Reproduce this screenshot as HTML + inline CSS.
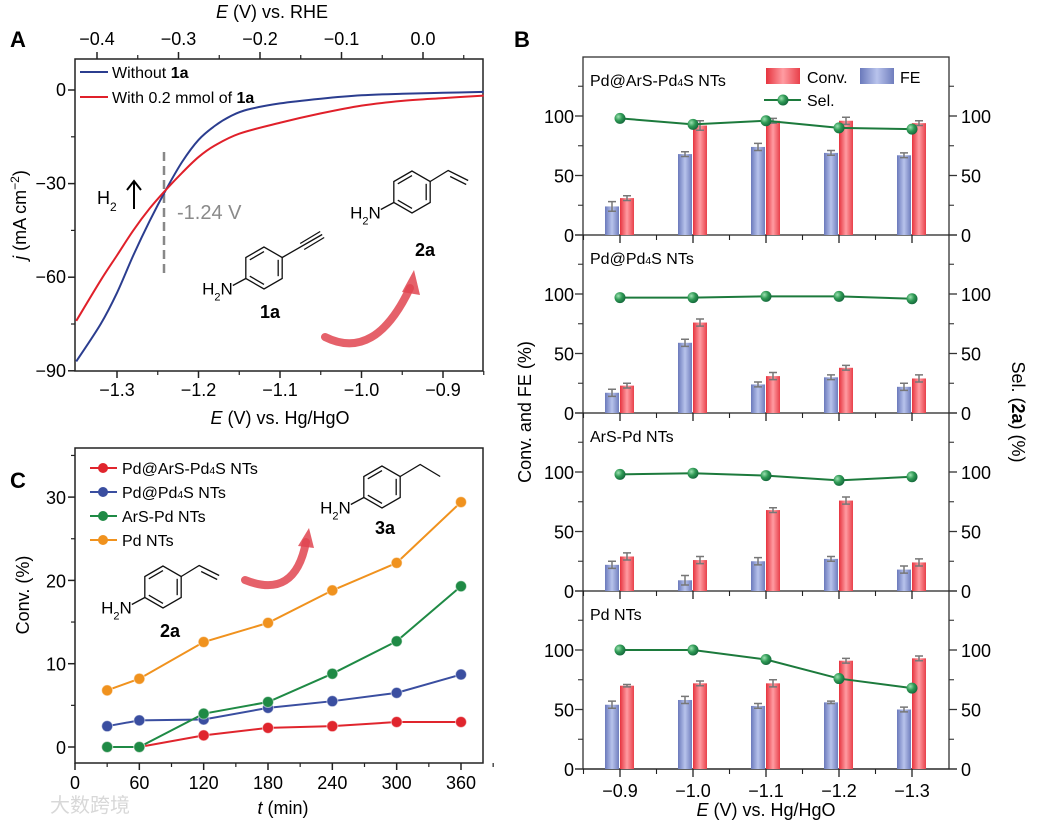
<!DOCTYPE html>
<html><head><meta charset="utf-8"><style>
html,body{margin:0;padding:0;background:#fff;}
svg{display:block;font-family:"Liberation Sans","Noto Sans CJK SC",sans-serif;}
</style></head><body>
<svg id="fig" width="1039" height="826" viewBox="0 0 1039 826" xmlns="http://www.w3.org/2000/svg">
<defs>
<linearGradient id="gBlue" x1="0" x2="1" y1="0" y2="0"><stop offset="0" stop-color="#6a79bb"/><stop offset="0.5" stop-color="#b8c3ec"/><stop offset="1" stop-color="#6f7dbd"/></linearGradient>
<linearGradient id="gRed" x1="0" x2="1" y1="0" y2="0"><stop offset="0" stop-color="#e6333e"/><stop offset="0.5" stop-color="#ff9ca2"/><stop offset="1" stop-color="#e8404a"/></linearGradient>
<radialGradient id="gGreen" cx="0.35" cy="0.35" r="0.7"><stop offset="0" stop-color="#9be0b0"/><stop offset="0.5" stop-color="#2f9a55"/><stop offset="1" stop-color="#13663a"/></radialGradient>
</defs>
<text x="10" y="47" font-size="22" font-weight="bold">A</text>
<text x="514" y="47" font-size="22" font-weight="bold">B</text>
<text x="10" y="488" font-size="22" font-weight="bold">C</text>
<text x="272" y="18" font-size="18" text-anchor="middle"><tspan font-style="italic">E</tspan> (V) vs. RHE</text>
<text x="280" y="424" font-size="18" text-anchor="middle"><tspan font-style="italic">E</tspan> (V)  vs. Hg/HgO</text>
<text transform="translate(26,215) rotate(-90)" font-size="18" text-anchor="middle"><tspan font-style="italic">j</tspan> (mA cm<tspan baseline-shift="super" font-size="12">−2</tspan>)</text>
<line x1="80" y1="72" x2="108" y2="72" stroke="#2b3d8f" stroke-width="2"/>
<text x="112" y="78" font-size="16">Without <tspan font-weight="bold">1a</tspan></text>
<line x1="80" y1="97" x2="108" y2="97" stroke="#e0202a" stroke-width="2"/>
<text x="112" y="103" font-size="16">With 0.2 mmol of <tspan font-weight="bold">1a</tspan></text>
<line x1="164" y1="152" x2="164" y2="274" stroke="#888" stroke-width="2.5" stroke-dasharray="9,5"/>
<text x="177" y="219" font-size="20" fill="#8a8a8a">-1.24 V</text>
<text x="97" y="204" font-size="18">H<tspan font-size="12" baseline-shift="sub">2</tspan></text>
<g><line x1="134" y1="209" x2="134" y2="182" stroke="#000" stroke-width="2"/><polyline points="127,190 134,181 141,190" fill="none" stroke="#000" stroke-width="2"/></g>
<text x="283" y="814" font-size="18" text-anchor="middle"><tspan font-style="italic">t</tspan> (min)</text>
<text transform="translate(29,595) rotate(-90)" font-size="18" text-anchor="middle">Conv. (%)</text>
<text x="766" y="816" font-size="18" text-anchor="middle"><tspan font-style="italic">E</tspan> (V) vs. Hg/HgO</text>
<text transform="translate(531,412) rotate(-90)" font-size="18" text-anchor="middle">Conv. and FE (%)</text>
<text transform="translate(1012,412) rotate(90)" font-size="18" text-anchor="middle">Sel. (<tspan font-weight="bold">2a</tspan>) (%)</text>
<text x="50" y="812" font-size="20" fill="#d8d8d8">大数跨境</text>
</svg>
<script>
// ---------- Panel A data ----------
const aBlueV = [-1.35,-1.32,-1.30,-1.28,-1.26,-1.24,-1.22,-1.20,-1.18,-1.16,-1.14,-1.10,-1.05,-1.00,-0.95,-0.90,-0.85];
const aBlueJ = [-87,-75,-65,-53,-42,-32,-23,-16,-11.5,-8.3,-6.3,-4.3,-2.8,-1.7,-1.2,-0.9,-0.6];
const aRedV = [-1.35,-1.32,-1.30,-1.28,-1.26,-1.24,-1.22,-1.20,-1.18,-1.15,-1.10,-1.05,-1.00,-0.95,-0.90,-0.85];
const aRedJ = [-74,-61,-53,-45,-38,-32,-26.5,-21.5,-17.8,-14,-10.5,-7.5,-5,-3.5,-2.6,-1.8];
const aXTicks = [-1.3,-1.2,-1.1,-1.0,-0.9];
const aXTickLabels = ["−1.3","−1.2","−1.1","−1.0","−0.9"];
const aTopTicks = [-0.4,-0.3,-0.2,-0.1,0.0];
const aTopTickLabels = ["−0.4","−0.3","−0.2","−0.1","0.0"];
const aYTicks = [0,-30,-60,-90];
const aYTickLabels = ["0","−30","−60","−90"];
// ---------- Panel B data ----------
const bCategories = ["−0.9","−1.0","−1.1","−1.2","−1.3"];
const bTitles = ["Pd@ArS-Pd|4|S NTs","Pd@Pd|4|S NTs","ArS-Pd NTs","Pd NTs"];
const bFE1 = [24,68,74,69,67], bConv1 = [31,92,96,96,94], bSel1 = [98,93,96,90,89];
const bFEErr1 = [4,2,3,2,2], bConvErr1 = [2,4,2,3,2];
const bFE2 = [17,59,24,30,22], bConv2 = [23,76,31,38,29], bSel2 = [97,97,98,98,96];
const bFEErr2 = [3,3,2,2,3], bConvErr2 = [2,3,3,2,3];
const bFE3 = [22,9,25,27,18], bConv3 = [29,26,68,76,24], bSel3 = [98,99,97,93,96];
const bFEErr3 = [3,4,3,2,3], bConvErr3 = [3,3,2,3,3];
const bFE4 = [54,58,53,56,50], bConv4 = [70,72,72,91,93], bSel4 = [100,100,92,76,68];
const bFEErr4 = [3,3,2,1,2], bConvErr4 = [1,2,3,2,2];
const bYTicks = [0,50,100];
// ---------- Panel C data ----------
const cTimes = [30,60,120,180,240,300,360];
const cRed = [0,0,1.4,2.3,2.5,3.0,3.0];
const cBlue = [2.5,3.2,3.3,4.7,5.5,6.5,8.7];
const cGreen = [0,0,4.0,5.4,8.8,12.7,19.3];
const cOrange = [6.8,8.2,12.6,14.9,18.8,22.1,29.4];
const cSeriesNames = ["Pd@ArS-Pd|4|S NTs","Pd@Pd|4|S NTs","ArS-Pd NTs","Pd NTs"];
const cXTicks = [0,60,120,180,240,300,360];
const cYTicks = [0,10,20,30];

const NS = "http://www.w3.org/2000/svg";
const svg = document.getElementById('fig');
function mk(tag, attrs, parent){ const e=document.createElementNS(NS,tag); for(const k in attrs) e.setAttribute(k,attrs[k]); (parent||svg).appendChild(e); return e; }
function tx(x,y,s,attrs,parent){ const e=mk('text',Object.assign({x:x,y:y},attrs||{}),parent); e.textContent=s; return e; }
function richSub(x,y,s,size,parent,anchor){
  const parts=s.split('|'); const e=mk('text',{x:x,y:y,'font-size':size,'text-anchor':anchor||'start'},parent);
  parts.forEach((p,i)=>{const t=document.createElementNS(NS,'tspan'); if(i%2===1) t.setAttribute('font-size',size*0.65); t.textContent=p; e.appendChild(t);});
  return e;
}
function smoothPath(P){
  let d='M'+P[0][0]+','+P[0][1];
  for(let i=0;i<P.length-1;i++){
    const p0=P[Math.max(0,i-1)],p1=P[i],p2=P[i+1],p3=P[Math.min(P.length-1,i+2)];
    const c1=[p1[0]+(p2[0]-p0[0])/6,p1[1]+(p2[1]-p0[1])/6];
    const c2=[p2[0]-(p3[0]-p1[0])/6,p2[1]-(p3[1]-p1[1])/6];
    d+=` C${c1[0]},${c1[1]} ${c2[0]},${c2[1]} ${p2[0]},${p2[1]}`;
  }
  return d;
}

// ---------- Panel A ----------
const xA = v => 117 + (v + 1.3) * 815;
const xTop = v => 97 + (v + 0.4) * 815;
const yA = v => 90 - v * 3.12;
const gA = mk('g',{});


const frameA = mk('rect',{x:75,y:59,width:408,height:312,fill:'none',stroke:'#222','stroke-width':1.5},gA);


aXTicks.forEach((v,i)=>{
  const t=mk('line',{x1:xA(v),x2:xA(v),y1:371,y2:378,stroke:'#222','stroke-width':1.5},gA);
  
  
  const m=mk('line',{x1:xA(v+0.05),x2:xA(v+0.05),y1:371,y2:375,stroke:'#222','stroke-width':1.2},gA);
  
  
  const l=tx(xA(v),396,aXTickLabels[i],{'font-size':18,'text-anchor':'middle'},gA);
  
  
});
aTopTicks.forEach((v,i)=>{
  const t=mk('line',{x1:xTop(v),x2:xTop(v),y1:59,y2:52,stroke:'#222','stroke-width':1.5},gA);
  
  
  const m=mk('line',{x1:xTop(v+0.05),x2:xTop(v+0.05),y1:59,y2:55,stroke:'#222','stroke-width':1.2},gA);
  
  
  const l=tx(xTop(v),45,aTopTickLabels[i],{'font-size':18,'text-anchor':'middle'},gA);
  
  
});
aYTicks.forEach((v,i)=>{
  const t=mk('line',{x1:68,x2:75,y1:yA(v),y2:yA(v),stroke:'#222','stroke-width':1.5},gA);
  
  
  if(v>-90){const m=mk('line',{x1:71,x2:75,y1:yA(v-15),y2:yA(v-15),stroke:'#222','stroke-width':1.2},gA);
  
  }
  const l=tx(66,yA(v)+6,aYTickLabels[i],{'font-size':18,'text-anchor':'end'},gA);
  
  
});
const blueA = mk('path',{d:smoothPath(aBlueV.map((v,i)=>[xA(v),yA(aBlueJ[i])])),fill:'none',stroke:'#2b3d8f','stroke-width':2},gA);


const redA = mk('path',{d:smoothPath(aRedV.map((v,i)=>[xA(v),yA(aRedJ[i])])),fill:'none',stroke:'#e0202a','stroke-width':2},gA);



// ---------- molecules ----------
function hexagon(cx,cy,r,name){
  const g=mk('g',{stroke:'#111','stroke-width':1.3,fill:'none'});
  
  
  const pts=[];for(let k=0;k<6;k++){const a=(90+60*k)*Math.PI/180;pts.push([cx+r*Math.cos(a),cy-r*Math.sin(a)]);}
  mk('polygon',{points:pts.map(p=>p.join(',')).join(' ')},g);
  [[0,1],[2,3],[4,5]].forEach(([a,b])=>{const s=0.78;const p=pts[a],q=pts[b];
    mk('line',{x1:cx+(p[0]-cx)*s,y1:cy+(p[1]-cy)*s,x2:cx+(q[0]-cx)*s,y2:cy+(q[1]-cy)*s},g);});
  const ur=pts[5], ll=pts[2];
  return {g,ur,ll};
}
function nh2(ll,g){ mk('line',{x1:ll[0],y1:ll[1],x2:ll[0]-13,y2:ll[1]+7},g);
  const t=mk('text',{x:ll[0]-13,y:ll[1]+16,'font-size':17,'text-anchor':'end',stroke:'none',fill:'#000'},g);
  t.innerHTML='H<tspan font-size="11" baseline-shift="sub">2</tspan>N'; }
let m=hexagon(264,268,21,'molecule-1a'); nh2(m.ll,m.g);
mk('line',{x1:m.ur[0],y1:m.ur[1],x2:m.ur[0]+40,y2:m.ur[1]-23},m.g);
mk('line',{x1:m.ur[0]+18,y1:m.ur[1]-14,x2:m.ur[0]+38,y2:m.ur[1]-26},m.g);
mk('line',{x1:m.ur[0]+22,y1:m.ur[1]-8,x2:m.ur[0]+42,y2:m.ur[1]-20},m.g);
tx(270,318,'1a',{'font-size':18,'font-weight':'bold','text-anchor':'middle',stroke:'none',fill:'#000'},m.g);
m=hexagon(412,192,21,'molecule-2a-top'); nh2(m.ll,m.g);
mk('polyline',{points:`${m.ur[0]},${m.ur[1]} ${m.ur[0]+18},${m.ur[1]-11} ${m.ur[0]+38},${m.ur[1]-1}`},m.g);
mk('line',{x1:m.ur[0]+20,y1:m.ur[1]-5,x2:m.ur[0]+36,y2:m.ur[1]+3},m.g);
tx(425,256,'2a',{'font-size':18,'font-weight':'bold','text-anchor':'middle',stroke:'none',fill:'#000'},m.g);
m=hexagon(163,587,21,'molecule-2a-bottom'); nh2(m.ll,m.g);
mk('polyline',{points:`${m.ur[0]},${m.ur[1]} ${m.ur[0]+18},${m.ur[1]-11} ${m.ur[0]+38},${m.ur[1]-1}`},m.g);
mk('line',{x1:m.ur[0]+20,y1:m.ur[1]-5,x2:m.ur[0]+36,y2:m.ur[1]+3},m.g);
tx(170,637,'2a',{'font-size':18,'font-weight':'bold','text-anchor':'middle',stroke:'none',fill:'#000'},m.g);
m=hexagon(382,487,21,'molecule-3a'); nh2(m.ll,m.g);
mk('polyline',{points:`${m.ur[0]},${m.ur[1]} ${m.ur[0]+20},${m.ur[1]-12} ${m.ur[0]+40},${m.ur[1]}`},m.g);
tx(385,534,'3a',{'font-size':18,'font-weight':'bold','text-anchor':'middle',stroke:'none',fill:'#000'},m.g);
function curvedArrow(d,tip,name){
  const g=mk('g',{});
  
  
  mk('path',{d:d,fill:'none',stroke:'#e04550','stroke-width':8,'stroke-linecap':'round',opacity:0.85},g);
  mk('polygon',{points:tip,fill:'#e04550',opacity:0.85},g);
}
curvedArrow('M325,337 Q375,362 410,288','402,292 414,270 420,295','reaction-arrow-a');
curvedArrow('M245,580 Q295,600 306,542','298,546 309,528 314,548','reaction-arrow-c');

// ---------- Panel B ----------
const bLeft=583,bRight=949,bBand=73,bTops=[57,235,413,591],bH=178,bScale=1.19;
const xB = i => 620 + i*bBand;
const bFE=[bFE1,bFE2,bFE3,bFE4], bConv=[bConv1,bConv2,bConv3,bConv4], bSel=[bSel1,bSel2,bSel3,bSel4];
const bFEErr=[bFEErr1,bFEErr2,bFEErr3,bFEErr4], bConvErr=[bConvErr1,bConvErr2,bConvErr3,bConvErr4];
const gB=mk('g',{});


const axB=mk('rect',{x:bLeft,y:bTops[0],width:bRight-bLeft,height:bH*4,fill:'none',stroke:'#333','stroke-width':1.3},gB);


for(let s=0;s<4;s++){
  const zero=bTops[s]+bH; const yB=v=>zero-v*bScale;
  const sg=mk('g',{},gB);
  
  
  const zl=mk('line',{x1:bLeft-8,x2:bRight+8,y1:zero,y2:zero,stroke:'#222','stroke-width':1.3},sg);
  
  
  bYTicks.forEach(v=>{
    const tl=mk('line',{x1:bLeft-8,x2:bLeft,y1:yB(v),y2:yB(v),stroke:'#333','stroke-width':1.3},sg);
    
    
    const tr=mk('line',{x1:bRight,x2:bRight+8,y1:yB(v),y2:yB(v),stroke:'#333','stroke-width':1.3},sg);
    
    
    const ml=mk('line',{x1:bLeft-5,x2:bLeft,y1:yB(v+25),y2:yB(v+25),stroke:'#333','stroke-width':1.1},sg);
    
    
    const mr=mk('line',{x1:bRight,x2:bRight+5,y1:yB(v+25),y2:yB(v+25),stroke:'#333','stroke-width':1.1},sg);
    
    
    const ll=tx(574,yB(v)+7,String(v),{'font-size':18,'text-anchor':'end'},sg);
    
    
    const rl=tx(961,yB(v)+7,String(v),{'font-size':18},sg);
    
    
  });
  bCategories.forEach((c,i)=>{
    const tk=mk('line',{x1:xB(i),x2:xB(i),y1:zero,y2:zero+8,stroke:'#222','stroke-width':1.3},sg);
    
    
    const mt=mk('line',{x1:xB(i)-bBand/2,x2:xB(i)-bBand/2,y1:zero,y2:zero+5,stroke:'#222','stroke-width':1.1},sg);
    
    
    const fe=bFE[s][i], cv=bConv[s][i];
    const b1=mk('rect',{x:xB(i)-15,y:yB(fe),width:14,height:fe*bScale,fill:'url(#gBlue)'},sg);
    
    
    const b2=mk('rect',{x:xB(i),y:yB(cv),width:14,height:cv*bScale,fill:'url(#gRed)'},sg);
    
    
    [[xB(i)-8,fe,bFEErr[s][i]],[xB(i)+7,cv,bConvErr[s][i]]].forEach(([x,v,e])=>{
      const eb=mk('path',{d:`M${x},${yB(v-e)}V${yB(v+e)}M${x-4},${yB(v+e)}H${x+4}M${x-4},${yB(v-e)}H${x+4}`,stroke:'#777','stroke-width':1.5,fill:'none'},sg);
      
      
    });
  });
  const sl=mk('polyline',{points:bSel[s].map((v,i)=>xB(i)+','+yB(v)).join(' '),fill:'none',stroke:'#1c7a3c','stroke-width':2},sg);
  
  
  bSel[s].forEach((v,i)=>{
    const d=mk('circle',{cx:xB(i),cy:yB(v),r:5.5,fill:'url(#gGreen)'},sg);
    
    
  });
  const tt=richSub(590,bTops[s]+29,bTitles[s],16,sg);
  
  
}
bCategories.forEach((c,i)=>{
  const l=tx(xB(i),797,c,{'font-size':18,'text-anchor':'middle'},gB);
  
  
});
const lg=mk('g',{},gB);


const lc=mk('rect',{x:766,y:68,width:34,height:16,fill:'url(#gRed)'},lg);


const lct=tx(807,83,'Conv.',{'font-size':16},lg);


const lf=mk('rect',{x:860,y:68,width:34,height:16,fill:'url(#gBlue)'},lg);


const lft=tx(900,83,'FE',{'font-size':16},lg);


const lsl=mk('line',{x1:764,x2:801,y1:100,y2:100,stroke:'#1c7a3c','stroke-width':2},lg);


const lsd=mk('circle',{cx:783,cy:100,r:5.5,fill:'url(#gGreen)'},lg);


const lst=tx(807,106,'Sel.',{'font-size':16},lg);



// ---------- Panel C ----------
const xC=v=>75+v*(386/360);
const yC=v=>747-v*8.33;
const gC=mk('g',{});


const frC=mk('rect',{x:75,y:448,width:408,height:315,fill:'none',stroke:'#222','stroke-width':1.5},gC);


cXTicks.forEach(v=>{
  const t=mk('line',{x1:xC(v),x2:xC(v),y1:763,y2:770,stroke:'#222','stroke-width':1.5},gC);
  
  
  const mm=mk('line',{x1:xC(v+30),x2:xC(v+30),y1:763,y2:767,stroke:'#222','stroke-width':1.2},gC);
  
  
  const l=tx(xC(v),789,String(v),{'font-size':18,'text-anchor':'middle'},gC);
  
  
});
cYTicks.forEach(v=>{
  const t=mk('line',{x1:68,x2:75,y1:yC(v),y2:yC(v),stroke:'#222','stroke-width':1.5},gC);
  
  
  const mm=mk('line',{x1:71,x2:75,y1:yC(v+5),y2:yC(v+5),stroke:'#222','stroke-width':1.2},gC);
  
  
  const l=tx(66,yC(v)+7,String(v),{'font-size':18,'text-anchor':'end'},gC);
  
  
});
const cSeries=[cRed,cBlue,cGreen,cOrange];
const cColors=['#e0252d','#3a4ea0','#1f8a45','#f0921e'];
const cNames=['pd-ars-pd4s','pd-pd4s','ars-pd','pd'];
cSeries.forEach((ser,s)=>{
  const pl=mk('polyline',{points:ser.map((v,i)=>xC(cTimes[i])+','+yC(v)).join(' '),fill:'none',stroke:cColors[s],'stroke-width':2},gC);
  
  
});
cSeries.forEach((ser,s)=>{
  ser.forEach((v,i)=>{
    const c=mk('circle',{cx:xC(cTimes[i]),cy:yC(v),r:5.5,fill:cColors[s],stroke:'#fff','stroke-opacity':0.5,'stroke-width':1},gC);
    
    
  });
  const ly=468+s*24;
  const ll=mk('line',{x1:90,x2:117,y1:ly,y2:ly,stroke:cColors[s],'stroke-width':2},gC);
  
  
  const lc2=mk('circle',{cx:103,cy:ly,r:5,fill:cColors[s]},gC);
  
  
  const lt=richSub(122,ly+6,cSeriesNames[s],16,gC);
  
  
});
</script>
</body></html>
